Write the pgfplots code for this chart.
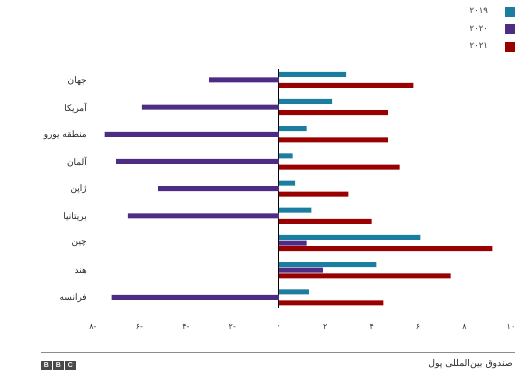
\documentclass[border=0pt]{standalone}
\usepackage{pgfplots}
\pgfplotsset{compat=1.18}
\usepackage{fontspec}
\setmainfont{Liberation Sans}
\newfontfamily\arabicfont[Script=Arabic]{DejaVu Sans}
\TeXXeTstate=1
\definecolor{c19}{HTML}{1B7EA1}
\definecolor{c20}{HTML}{4E2C84}
\definecolor{c21}{HTML}{990000}
\definecolor{bbcgray}{HTML}{4A4A4A}
\begin{document}
\begin{tikzpicture}[x=1pt,y=1pt]
\path (0,0) rectangle (530,374);
\begin{axis}[
  at={(93pt,66pt)}, anchor=south west,
  scale only axis, width=418pt, height=239pt,
  xmin=-8, xmax=10, ymin=-0.39, ymax=8.4,
  xbar, bar width=5pt,
  legend image code/.code={\fill[#1,draw=none] (0pt,-5pt) rectangle (10pt,5pt);},
  axis line style={draw=none},
  major tick length=0pt,
  tick style={draw=none},
  xtick={-8,-6,...,10},
  xticklabels={-۸,-۶,-۴,-۲,۰,۲,۴,۶,۸,۱۰},
  xticklabel style={anchor=center, inner sep=0pt, yshift=-19pt, font=\arabicfont\fontsize{8}{9}\selectfont, text=black!80},
  ytick={0,...,8},
  yticklabels={{\beginR فرانسه\endR},{\beginR هند\endR},{\beginR چین\endR},{\beginR بریتانیا\endR},{\beginR ژاپن\endR},{\beginR آلمان\endR},{\beginR منطقه یورو\endR},{\beginR آمریکا\endR},{\beginR جهان\endR}},
  yticklabel style={anchor=east, inner sep=0pt, xshift=-6pt, yshift=-1pt, font=\arabicfont\fontsize{9}{10}\selectfont, text=black!85},
  extra x ticks={0},
  extra x tick labels={},
  extra x tick style={grid=major, major grid style={black, line width=1.3pt}},
  legend plot pos=right,
  legend cell align=right,
  legend style={at={(1,1)}, anchor=south east, xshift=4pt, yshift=17pt,
    draw=none, fill=none, inner sep=0pt, outer sep=0pt,
    row sep=7.5pt, column sep=17pt,
    nodes={inner sep=0pt, font=\arabicfont\fontsize{8.5}{9}\selectfont, text=black!80}},
]
\addplot[fill=c19, draw=none, bar shift=5.6pt] coordinates {
  (1.3,0) (4.2,1) (6.1,2) (1.4,3) (0.7,4) (0.6,5) (1.2,6) (2.3,7) (2.9,8)};
\addlegendentry{۲۰۱۹}
\addplot[fill=c20, draw=none, bar shift=0pt] coordinates {
  (-7.2,0) (1.9,1) (1.2,2) (-6.5,3) (-5.2,4) (-7.0,5) (-7.5,6) (-5.9,7) (-3.0,8)};
\addlegendentry{۲۰۲۰}
\addplot[fill=c21, draw=none, bar shift=-5.6pt] coordinates {
  (4.5,0) (7.4,1) (9.2,2) (4.0,3) (3.0,4) (5.2,5) (4.7,6) (4.7,7) (5.8,8)};
\addlegendentry{۲۰۲۱}
\end{axis}
\draw[color=black!45, line width=1pt] (41,21.5) -- (515,21.5);
\node[anchor=east, inner sep=0pt, font=\arabicfont\fontsize{9.3}{10}\selectfont, text=black!85] at (513,9.5) {\beginR صندوق بین‌المللی پول\endR};
\foreach \cx/\lt in {46.3/B,58.3/B,70.3/C}
  \node[fill=bbcgray, text=white, minimum width=10.5pt, minimum height=8.5pt, inner sep=0pt, font=\bfseries\fontsize{7}{7}\selectfont] at (\cx,8.7) {\lt};
\end{tikzpicture}
\end{document}
